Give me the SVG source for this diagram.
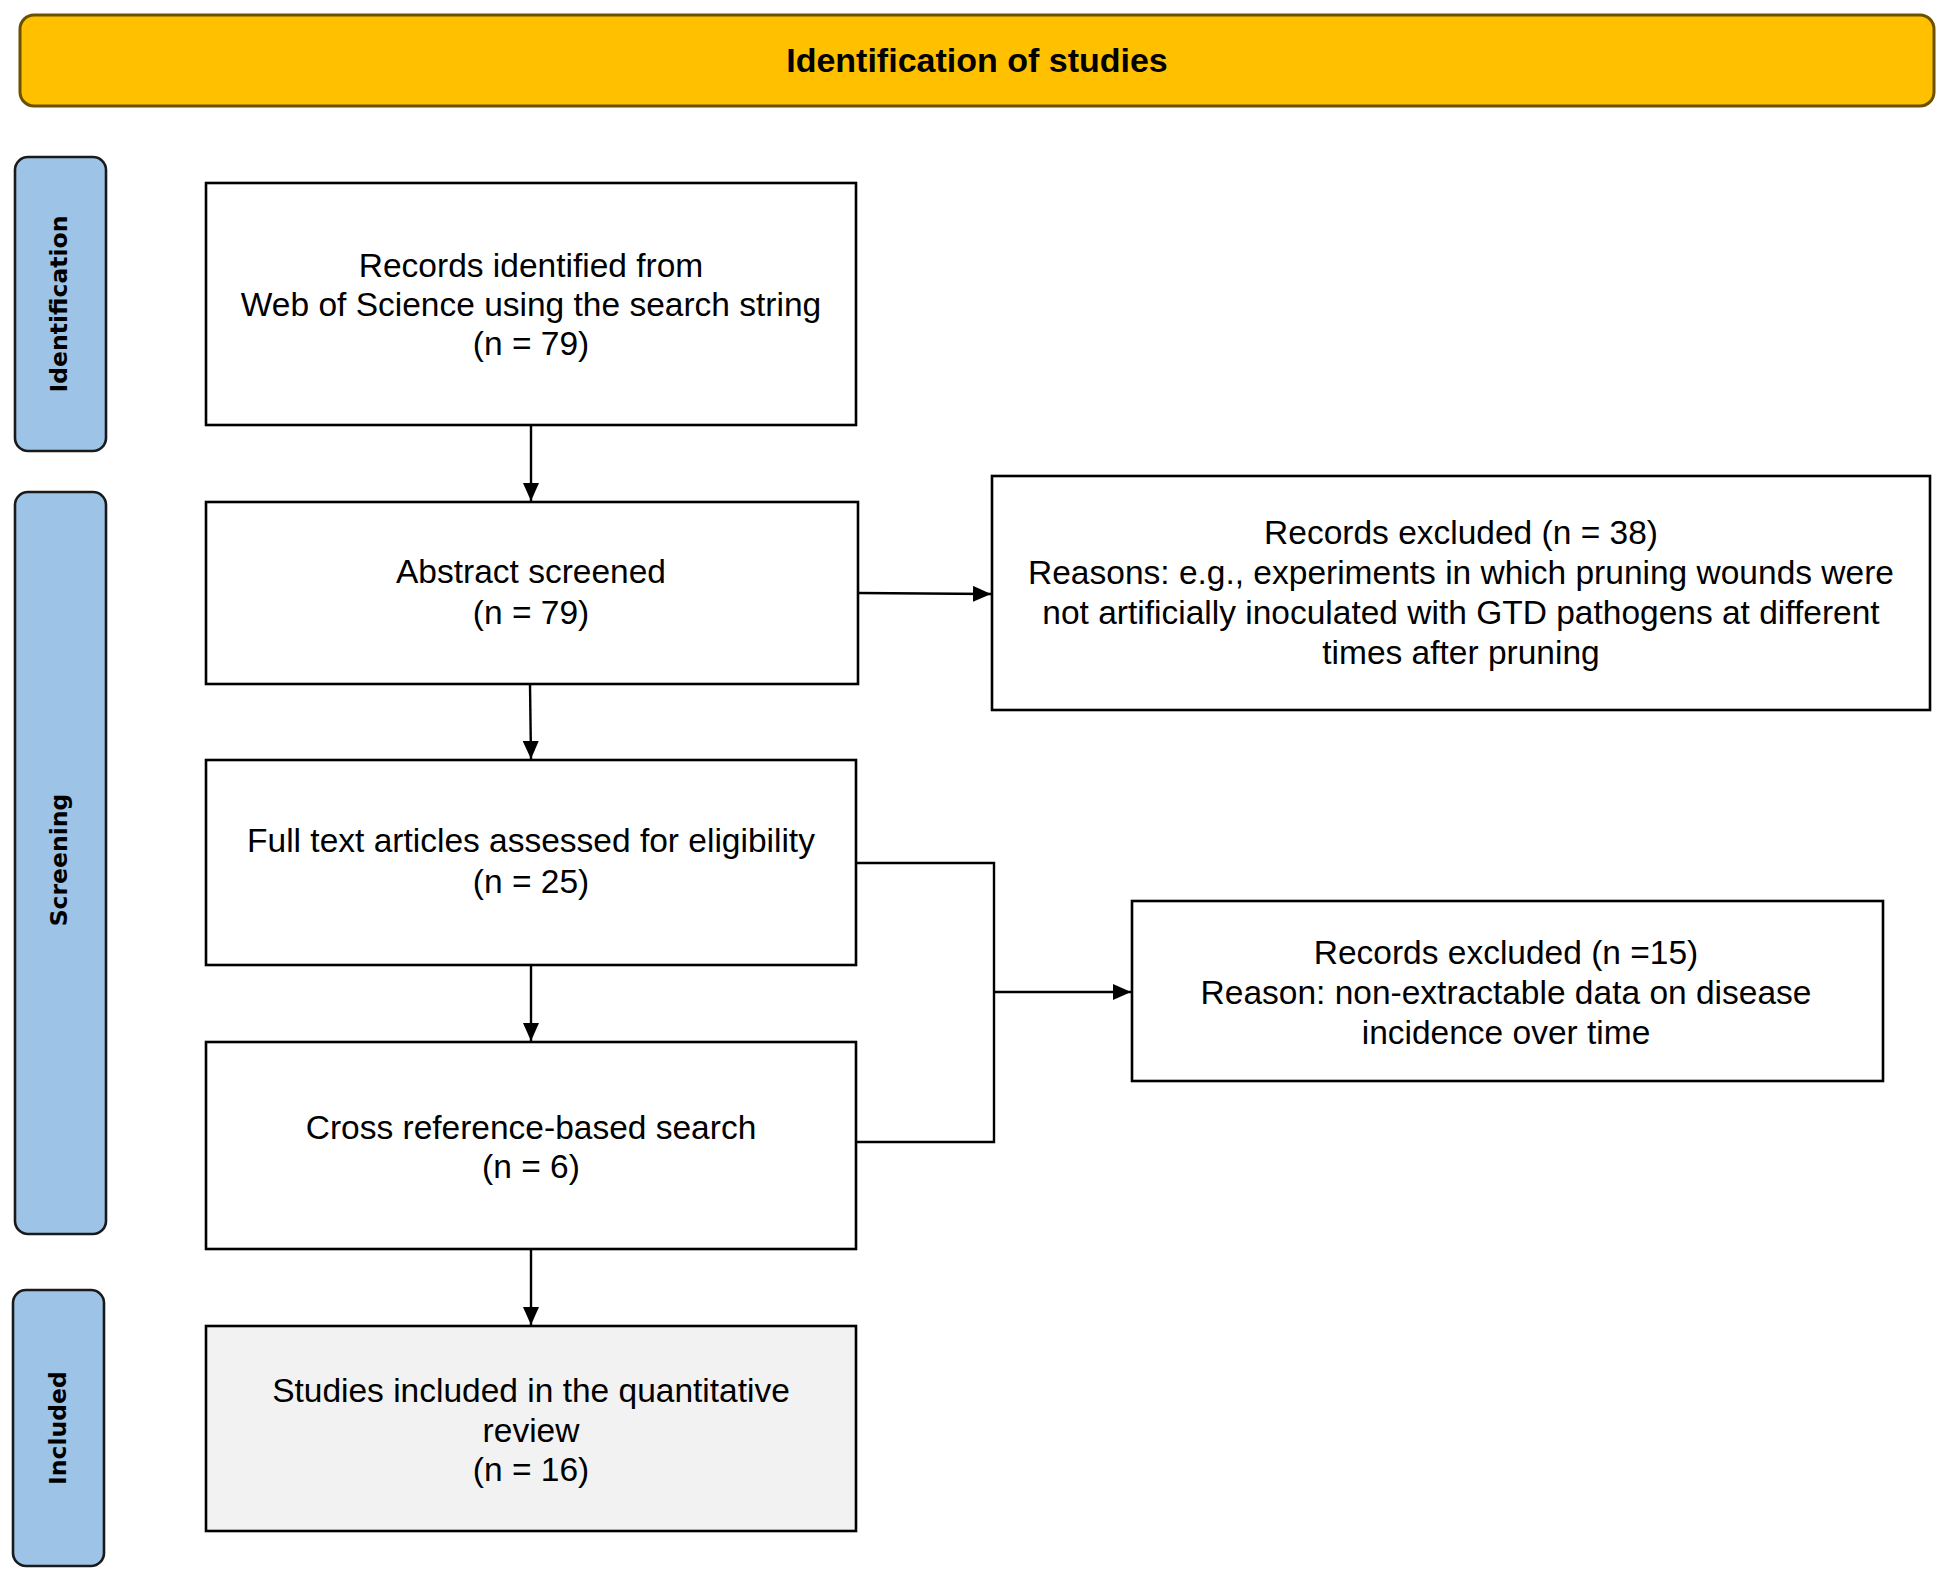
<svg xmlns="http://www.w3.org/2000/svg" width="1949" height="1576" viewBox="0 0 1949 1576">
<style>
.box{fill:#ffffff;stroke:#000000;stroke-width:2.6}
.inc{fill:#f2f2f2;stroke:#000000;stroke-width:2.6}
.side{fill:#9dc3e6;stroke:#1a1a1a;stroke-width:2.6}
.t{font-family:"Liberation Sans",Arial,sans-serif;font-size:33.5px;fill:#000;text-anchor:middle}
.st{font-family:"DejaVu Sans",Verdana,sans-serif;font-weight:bold;font-size:23.5px;fill:#000;text-anchor:middle}
.ban{font-family:"Liberation Sans",Arial,sans-serif;font-weight:bold;font-size:34px;fill:#000;text-anchor:middle}
.ln{fill:none;stroke:#000;stroke-width:2.4}
</style>
<defs>
<marker id="ah" viewBox="0 0 10 10" refX="10" refY="5" markerWidth="18" markerHeight="16" markerUnits="userSpaceOnUse" orient="auto" preserveAspectRatio="none">
<path d="M0,0 L10,5 L0,10 z" fill="#000"/>
</marker>
</defs>
<rect width="1949" height="1576" fill="#ffffff"/>
<g id="banner">
<rect x="20" y="15" width="1914" height="91" rx="14" fill="#ffc000" stroke="#6b5000" stroke-width="3"/>
<text class="ban" x="977" y="72">Identification of studies</text>
</g>
<g id="side-identification">
<rect class="side" x="15" y="157" width="91" height="294" rx="13"/>
<text class="st" transform="translate(67,304) rotate(-90)">Identification</text>
</g>
<g id="side-screening">
<rect class="side" x="15" y="492" width="91" height="742" rx="13"/>
<text class="st" transform="translate(67,860) rotate(-90)">Screening</text>
</g>
<g id="side-included">
<rect class="side" x="13" y="1290" width="91" height="276" rx="13"/>
<text class="st" transform="translate(66,1428) rotate(-90)">Included</text>
</g>
<g id="records-identified">
<rect class="box" x="206" y="183" width="650" height="242"/>
<text class="t" x="531" y="277">Records identified from</text>
<text class="t" x="531" y="316">Web of Science using the search string</text>
<text class="t" x="531" y="355">(n = 79)</text>
</g>
<g id="abstract-screened">
<rect class="box" x="206" y="502" width="652" height="182"/>
<text class="t" x="531" y="583">Abstract screened</text>
<text class="t" x="531" y="624">(n = 79)</text>
</g>
<g id="records-excluded-38">
<rect class="box" x="992" y="476" width="938" height="234"/>
<text class="t" x="1461" y="544">Records excluded (n = 38)</text>
<text class="t" x="1461" y="584">Reasons: e.g., experiments in which pruning wounds were</text>
<text class="t" x="1461" y="624">not artificially inoculated with GTD pathogens at different</text>
<text class="t" x="1461" y="664">times after pruning</text>
</g>
<g id="full-text">
<rect class="box" x="206" y="760" width="650" height="205"/>
<text class="t" x="531" y="852">Full text articles assessed for eligibility</text>
<text class="t" x="531" y="893">(n = 25)</text>
</g>
<g id="cross-reference">
<rect class="box" x="206" y="1042" width="650" height="207"/>
<text class="t" x="531" y="1139">Cross reference-based search</text>
<text class="t" x="531" y="1178">(n = 6)</text>
</g>
<g id="records-excluded-15">
<rect class="box" x="1132" y="901" width="751" height="180"/>
<text class="t" x="1506" y="964">Records excluded (n =15)</text>
<text class="t" x="1506" y="1004">Reason: non-extractable data on disease</text>
<text class="t" x="1506" y="1044">incidence over time</text>
</g>
<g id="studies-included">
<rect class="inc" x="206" y="1326" width="650" height="205"/>
<text class="t" x="531" y="1402">Studies included in the quantitative</text>
<text class="t" x="531" y="1442">review</text>
<text class="t" x="531" y="1481">(n = 16)</text>
</g>
<g id="connectors">
<line class="ln" x1="531" y1="425" x2="531" y2="501" marker-end="url(#ah)"/>
<line class="ln" x1="858" y1="593" x2="991" y2="594" marker-end="url(#ah)"/>
<line class="ln" x1="530" y1="684" x2="531" y2="759" marker-end="url(#ah)"/>
<line class="ln" x1="531" y1="965" x2="531" y2="1041" marker-end="url(#ah)"/>
<line class="ln" x1="531" y1="1249" x2="531" y2="1325" marker-end="url(#ah)"/>
<polyline class="ln" points="856,863 994,863 994,1142 856,1142"/>
<line class="ln" x1="994" y1="992" x2="1131" y2="992" marker-end="url(#ah)"/>
</g>
</svg>
